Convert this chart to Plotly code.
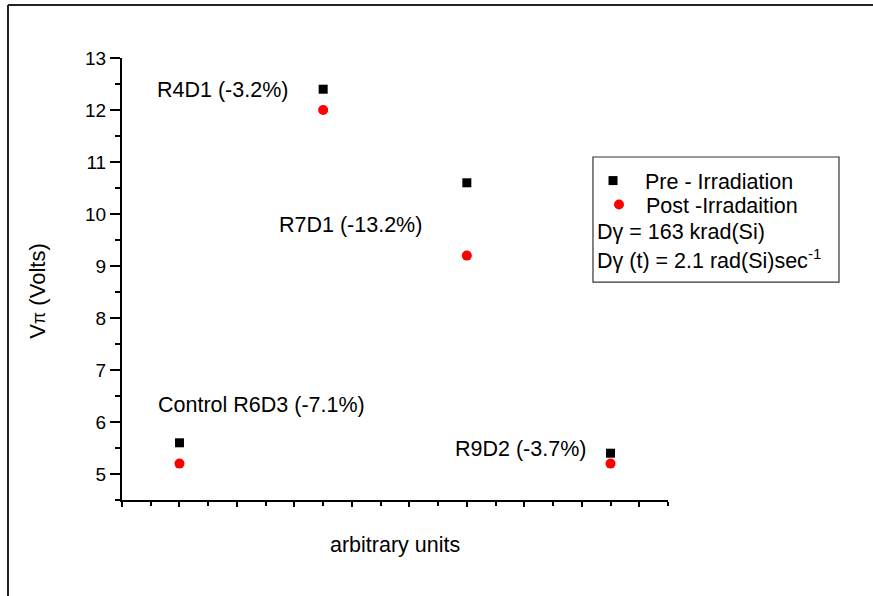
import plotly.graph_objects as go

# Device names and their positions along the arbitrary x axis
devices = ["Control R6D3", "R4D1", "R7D1", "R9D2"]
positions = [1.0, 3.5, 6.0, 8.5]

# Half-wave voltage V_pi (Volts) before and after gamma irradiation
pre_irradiation = [5.6, 12.4, 10.6, 5.4]
post_irradiation = [5.2, 12.0, 9.2, 5.2]

# Where each device label sits (data coordinates)
label_x = [2.42, 1.74, 3.97, 6.94]
label_y = [6.33, 12.38, 9.79, 5.48]

FONT = "Liberation Sans, Arial, sans-serif"
TEXT_SIZE = 21.5

fig = go.Figure()
fig.add_trace(go.Scatter(
    x=positions, y=pre_irradiation, mode="markers", name="Pre - Irradiation",
    marker=dict(symbol="square", size=9, color="black"), legend="legend",
))
fig.add_trace(go.Scatter(
    x=positions, y=post_irradiation, mode="markers", name="Post -Irradaition",
    marker=dict(symbol="circle", size=10, color="#ff0000"), legend="legend2",
))

# Device labels with the relative change computed from the two series
for name, pre, post, lx, ly in zip(devices, pre_irradiation, post_irradiation, label_x, label_y):
    change = (post / pre - 1.0) * 100.0
    fig.add_annotation(
        x=lx, y=ly, xref="x", yref="y", text=f"{name} ({change:.1f}%)",
        showarrow=False, xanchor="center", yanchor="middle",
        font=dict(family=FONT, size=TEXT_SIZE, color="black"),
    )

# Dose notes inside the legend box
fig.add_annotation(
    x=0.866, y=0.606, xref="paper", yref="paper", xanchor="left", yanchor="middle",
    text="Dγ = 163 krad(Si)", showarrow=False,
    font=dict(family=FONT, size=TEXT_SIZE, color="black"),
)
fig.add_annotation(
    x=0.866, y=0.546, xref="paper", yref="paper", xanchor="left", yanchor="middle",
    text="Dγ (t) = 2.1 rad(Si)sec<sup>-1</sup>", showarrow=False,
    font=dict(family=FONT, size=TEXT_SIZE, color="black"),
)

# Axis titles
fig.add_annotation(
    x=0.5, y=-0.102, xref="paper", yref="paper", xanchor="center", yanchor="middle",
    text="arbitrary units", showarrow=False,
    font=dict(family=FONT, size=TEXT_SIZE, color="black"),
)
fig.add_annotation(
    x=-0.154, y=0.473, xref="paper", yref="paper", xanchor="center", yanchor="middle",
    text="V<span style='font-size:18px'>π</span> (Volts)", textangle=-90, showarrow=False,
    font=dict(family=FONT, size=22, color="black"),
)

# Legend frame and the outer page frame
fig.add_shape(type="rect", xref="paper", yref="paper",
              x0=0.8626, x1=1.3132, y0=0.493, y1=0.776,
              line=dict(color="#333333", width=1.2))
fig.add_shape(type="line", xref="paper", yref="paper",
              x0=-0.2088, x1=-0.2088, y0=-0.3, y1=1.1199,
              line=dict(color="#222222", width=2))
fig.add_shape(type="line", xref="paper", yref="paper",
              x0=-0.2088, x1=1.45, y0=1.1199, y1=1.1199,
              line=dict(color="#222222", width=2))

fig.update_xaxes(
    range=[0, 9.5], showgrid=False, zeroline=False,
    showline=True, linecolor="black", linewidth=2,
    ticks="outside", tickmode="linear", tick0=0, dtick=1, ticklen=5,
    tickwidth=2, tickcolor="black", showticklabels=False,
    minor=dict(ticks="outside", dtick=0.5, ticklen=4, tickwidth=1.5, tickcolor="black"),
)
fig.update_yaxes(
    range=[4.5, 13], showgrid=False, zeroline=False,
    showline=True, linecolor="black", linewidth=2,
    ticks="outside", tickmode="linear", tick0=5, dtick=1, ticklen=10,
    tickwidth=2, tickcolor="black",
    tickfont=dict(family=FONT, size=19, color="black"),
    minor=dict(ticks="outside", dtick=0.5, ticklen=5, tickwidth=1.5, tickcolor="black"),
)

legend_style = dict(
    xanchor="left", yanchor="top", bgcolor="rgba(0,0,0,0)", borderwidth=0,
    font=dict(family=FONT, size=TEXT_SIZE, color="black"), tracegroupgap=0,
)
fig.update_layout(
    width=873, height=596,
    margin=dict(l=122, r=205, t=58, b=96),
    paper_bgcolor="white", plot_bgcolor="white",
    font=dict(family=FONT, color="black"),
    showlegend=True,
    legend=dict(x=0.8407, y=0.769, itemwidth=54, **legend_style),
    legend2=dict(x=0.8608, y=0.715, itemwidth=44, **legend_style),
)

fig.write_html("out.html")
